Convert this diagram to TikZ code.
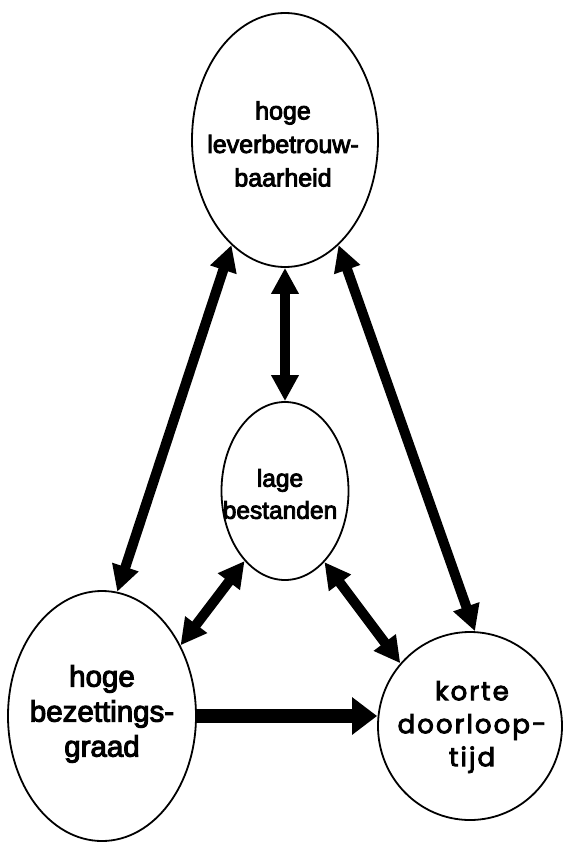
\documentclass[tikz,border=0pt]{standalone}
\usepackage{fontspec}
\setmainfont[FakeBold=3.5]{Liberation Sans}
\newfontfamily\roundfont[LetterSpace=8,FakeBold=3.5]{Poppins}
\usetikzlibrary{shapes.geometric,arrows.meta}

\begin{document}
\begin{tikzpicture}[x=1pt,y=-1pt,
  blob/.style={draw, line width=1.8pt, ellipse, inner sep=0pt},
  lbl/.style={align=center, inner sep=0pt},
  link/.style={line width=10pt,
    {Triangle[length=26pt,width=26pt]}-{Triangle[length=26pt,width=26pt]}},
  push/.style={line width=14pt, -{Triangle[length=25pt,width=36pt]}}]
\useasboundingbox (0,0) rectangle (564,845);

% the four goals
\node[blob, minimum width=186pt, minimum height=254pt] (top) at (285,140) {};
\node[blob, minimum width=127pt, minimum height=178pt] (mid) at (285,491) {};
\node[blob, minimum width=188pt, minimum height=250pt] (bl)  at (102,716) {};
\node[blob, minimum width=184pt, minimum height=188pt] (br)  at (470,726) {};

% their labels
\node[lbl, font=\fontsize{25}{33.5}\selectfont] (toptxt) at (283,144)
  {hoge\\leverbetrouw-\\baarheid};
\node[lbl, font=\fontsize{24.5}{32}\selectfont] (midtxt) at (280,494)
  {lage\\bestanden};
\node[lbl, font=\fontsize{29.5}{35}\selectfont] (bltxt) at (102,714)
  {hoge\\bezettings-\\graad};
\node[lbl, font=\roundfont\fontsize{26}{33}\selectfont] (brtxt) at (472,727)
  {korte\\doorloop-\\tijd};

% mutual relations
\draw[link] (top.south) -- (mid.north);
\draw[link] (top.243) -- (bl.83);
\draw[link] (top.297) -- (br.87);
\draw[link] (mid.240) -- (bl.42);
\draw[link] (mid.299) -- (br.138);

% one-way relation
\draw[push] (bl.east) -- (br.west |- bl.east);
\end{tikzpicture}
\end{document}
